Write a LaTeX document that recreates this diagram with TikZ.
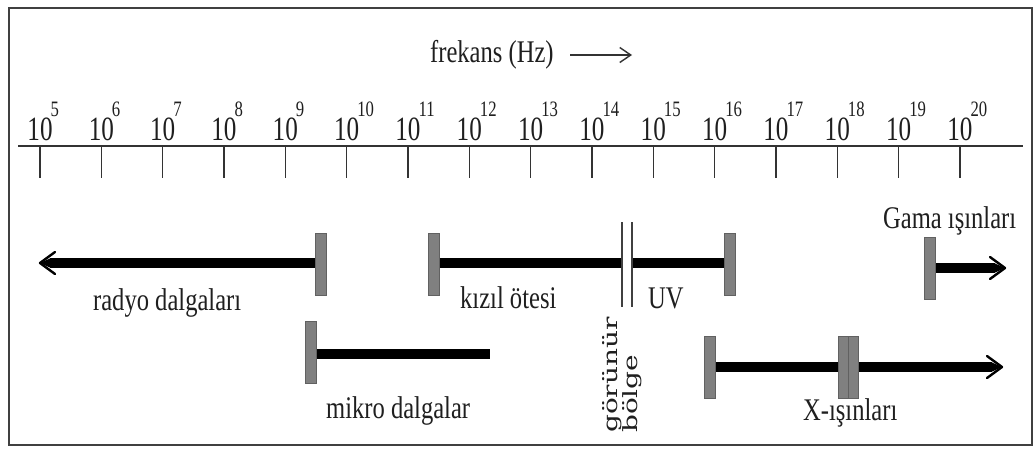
\documentclass[tikz,border=0pt]{standalone}
\usepackage{fontspec}
\setmainfont{Liberation Serif}
\newfontfamily\rotfont{DejaVu Serif}
\usetikzlibrary{calc,arrows.meta}
\pgfdeclarelayer{bands}
\pgfsetlayers{bands,main}
\begin{document}
\begin{tikzpicture}[x=1pt,y=-1pt,
  frame/.style={draw=black!75,line width=2pt},
  axis/.style={draw=black!80,line width=1.6pt},
  tickline/.style={draw=black!80,line width=1.3pt},
  lbl/.style={font=\fontsize{31.5}{36}\selectfont,text=black!88,xscale=0.78,inner sep=0pt,anchor=base west},
  num/.style={font=\fontsize{34}{36}\selectfont,text=black!88,xscale=0.74,inner sep=0pt,anchor=base},
  expo/.style={font=\fontsize{22}{24}\selectfont,text=black!88,xscale=0.76,inner sep=0pt,anchor=base west},
  gbar/.style={rectangle,fill=black!50,draw=black!62,line width=0.6pt,minimum width=11pt,minimum height=62pt,inner sep=0pt},
  band/.style={draw=black,line width=10pt},
  barb/.style={draw=black,line width=2.4pt,line join=round,line cap=round},
  thinline/.style={draw=black!75,line width=1.4pt}]
\useasboundingbox (0,0) rectangle (1035,448);
\begin{pgfonlayer}{bands}
\fill[white] (0,0) rectangle (1035,448);
\end{pgfonlayer}
\draw[frame] (9,8) rectangle (1032,445);

% frequency caption and direction arrow
\node[lbl] (freq) at (430,62) {frekans (Hz)};
\coordinate (fa) at (570,55);
\coordinate (fb) at (632,55);
\draw[draw=black!80,line width=1.4pt,-{Straight Barb[length=11pt,width=15pt,line width=1.4pt]}] (fa) -- (fb);

% frequency axis with decades
\coordinate (axL) at (18,146);
\coordinate (axR) at (1023,146);
\draw[axis] (axL) -- (axR);
\foreach \n in {5,...,20}{
  \pgfmathsetmacro{\xx}{40+61.33*(\n-5)}
  \coordinate (t\n) at (\xx,146);
  \coordinate (b\n) at (\xx,178);
  \draw[tickline] (t\n) -- (b\n);
  \node[num] (d\n) at (\xx,140) {10};
  \node[expo] (e\n) at (\xx+10.5,116) {\n};
}

% grey range markers
\node[gbar] (mR) at (320.5,264) {};
\node[gbar] (mI) at (433.5,264) {};
\node[gbar] (mU) at (730,264) {};
\node[gbar] (mG) at (929.5,268.5) {};
\node[gbar] (mM) at (310.5,352.5) {};
\node[gbar] (mX1) at (710,367.5) {};
\node[gbar,minimum width=10pt] (mX2) at (843,367.5) {};
\node[gbar,minimum width=10pt] (mX3) at (853,367.5) {};

% black range bands, drawn beneath the markers
\coordinate (rTip) at (40,263);
\coordinate (gTip) at (1005,268);
\coordinate (mEnd) at (490,354);
\coordinate (xTip) at (1002,367);
\begin{pgfonlayer}{bands}
\draw[band] (mR.center |- rTip) -- ($(rTip)+(10,0)$);
\fill[black] ($(rTip)+(11,-5)$) -- (rTip) -- ($(rTip)+(11,5)$) -- cycle;
\draw[barb] ($(rTip)+(15,-11)$) -- (rTip) -- ($(rTip)+(15,11)$);
\draw[band] (mI.center |- rTip) -- (mU.center |- rTip);
\draw[band] (mG.center |- gTip) -- ($(gTip)+(-10,0)$);
\fill[black] ($(gTip)+(-11,-5)$) -- (gTip) -- ($(gTip)+(-11,5)$) -- cycle;
\draw[barb] ($(gTip)+(-15,-11)$) -- (gTip) -- ($(gTip)+(-15,11)$);
\draw[band] (mM.center |- mEnd) -- (mEnd);
\draw[band] (mX1.center |- xTip) -- ($(xTip)+(-10,0)$);
\fill[black] ($(xTip)+(-11,-5)$) -- (xTip) -- ($(xTip)+(-11,5)$) -- cycle;
\draw[barb] ($(xTip)+(-15,-11)$) -- (xTip) -- ($(xTip)+(-15,11)$);
\end{pgfonlayer}

% visible band cut into the infrared / ultraviolet band
\fill[white] (623,255) rectangle (631,272);
\coordinate (v1a) at (622,222);
\coordinate (v1b) at (622,307);
\coordinate (v2a) at (632,222);
\coordinate (v2b) at (632,307);
\draw[thinline] (v1a) -- (v1b);
\draw[thinline] (v2a) -- (v2b);

% labels
\node[lbl] (lR) at (93,310) {radyo dalgaları};
\node[lbl] (lI) at (460,308) {kızıl ötesi};
\node[lbl] (lU) at (648,308) {UV};
\node[font=\rotfont\fontsize{28}{21}\selectfont,text=black!88,align=left,inner sep=0pt,
      rotate=90,yscale=0.7,anchor=north west] (lV) at (602,433) {görünür\\bölge};
\node[lbl] (lG) at (883,228) {Gama ışınları};
\node[lbl] (lM) at (326,418) {mikro dalgalar};
\node[lbl] (lX) at (803,420) {X-ışınları};
\end{tikzpicture}
\end{document}
